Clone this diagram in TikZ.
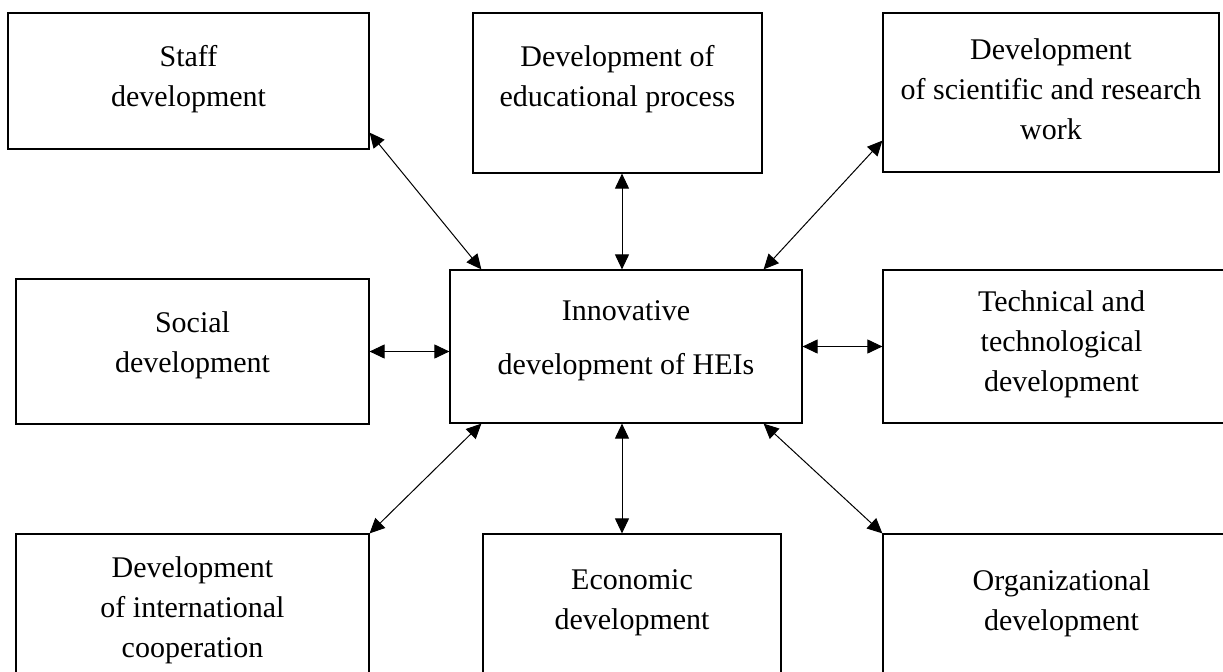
\documentclass[tikz,border=0pt]{standalone}
\usepackage{fontspec}
\setmainfont{Liberation Serif}
\usetikzlibrary{arrows.meta}

\tikzset{%
  box/.style={draw, rectangle, line width=0.6pt, inner sep=0pt},%
  txt/.style={align=center, font=\fontsize{15}{20}\selectfont},%
  link/.style={line width=0.5pt, {Triangle[length=7.5pt,width=7pt]}-{Triangle[length=7.5pt,width=7pt]}},%
}

\begin{document}
\begin{tikzpicture}[x=0.5pt, y=-0.5pt]
\useasboundingbox (0,0) rectangle (1223,671);
% boxes
\node[box, minimum width=180.5pt, minimum height=68pt] (staff) at (188.5,81) {};
\node[box, minimum width=144.5pt, minimum height=80pt] (educ) at (617.5,93) {};
\node[box, minimum width=168pt, minimum height=79.5pt] (sci) at (1051,92.5) {};
\node[box, minimum width=176.5pt, minimum height=72.5pt] (social) at (192.5,351.5) {};
\node[box, minimum width=176pt, minimum height=76.5pt] (hei) at (626,346.5) {};
\node[box, minimum width=178.5pt, minimum height=76.5pt] (tech) at (1061.5,346.5) {};
\node[box, minimum width=176.5pt, minimum height=83pt] (intl) at (192.5,617) {};
\node[box, minimum width=149pt, minimum height=83pt] (econ) at (632,617) {};
\node[box, minimum width=178.5pt, minimum height=83pt] (org) at (1061.5,617) {};
% texts
\node[txt, yshift=1pt] (staffTxt) at (staff) {Staff\\development};
\node[txt, yshift=7pt] (educTxt) at (educ) {Development of\\educational process};
\node[txt, yshift=1.75pt] (sciTxt) at (sci) {Development\\of scientific and research\\work};
\node[txt, yshift=3pt] (socialTxt) at (social) {Social\\development};
\node[txt, yshift=3pt, font=\fontsize{15}{27}\selectfont] (heiTxt) at (hei) {Innovative\\development of HEIs};
\node[txt, yshift=1pt] (techTxt) at (tech) {Technical and\\technological\\development};
\node[txt, yshift=3.5pt] (intlTxt) at (intl) {Development\\of international\\cooperation};
\node[txt, yshift=7pt] (econTxt) at (econ) {Economic\\development};
\node[txt, yshift=7pt] (orgTxt) at (org) {Organizational\\development};
% links
\draw[link] ([yshift=8.5pt]staff.south east) -- ([xshift=16pt]hei.north west);
\draw[link] ([xshift=-2pt]hei.north |- educ.south) -- ([xshift=-2pt]hei.north);
\draw[link] ([yshift=16pt]sci.south west) -- ([xshift=-19.5pt]hei.north east);
\draw[link] (social.east) -- (social.east -| hei.west);
\draw[link] (hei.east) -- (hei.east -| tech.west);
\draw[link] (intl.north east) -- ([xshift=16pt]hei.south west);
\draw[link] ([xshift=-2pt]hei.south) -- ([xshift=-2pt]hei.south |- econ.north);
\draw[link] ([xshift=-19.5pt]hei.south east) -- (org.north west);
\end{tikzpicture}
\end{document}
